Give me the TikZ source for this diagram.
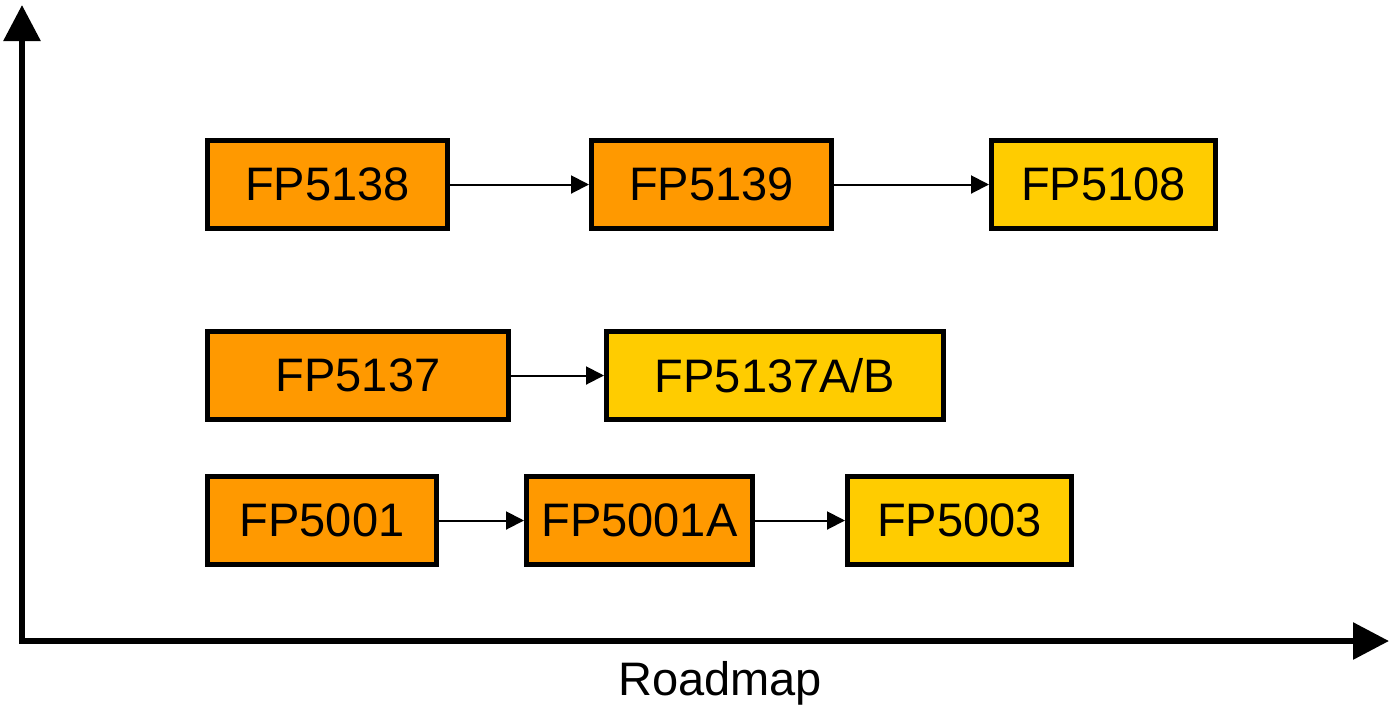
\documentclass[tikz,border=0pt]{standalone}
\usepackage{fontspec}
\setmainfont{Liberation Sans}
\usetikzlibrary{arrows.meta}
\definecolor{fporange}{HTML}{FF9900}
\definecolor{fpyellow}{HTML}{FFCC00}
\begin{document}
\begin{tikzpicture}[x=0.5pt,y=-0.5pt,
	fpbox/.style={draw,line width=2.5pt,minimum height=44pt,inner sep=0pt,font=\fontsize{23.5}{26}\selectfont},
	oldfp/.style={fpbox,fill=fporange},
	newfp/.style={fpbox,fill=fpyellow},
	link/.style={-{Triangle[length=9pt,width=9pt]},line width=1pt},
	axis/.style={-{Triangle[length=18pt,width=18pt]},line width=3pt}]
			\useasboundingbox (0,0) rectangle (1389,709);
			\coordinate (origin) at (22,641);
			\coordinate (ytop) at (22,5);
			\coordinate (xend) at (1389,641);
			\draw[axis] (origin) -- (ytop);
			\draw[axis] ([xshift=-1.5pt]origin) -- (xend);
			\node[font=\fontsize{23.5}{26}\selectfont] (roadmap) at (720,683) {Roadmap};
			\node[oldfp,minimum width=120pt] (fp5138) at (327.5,184.5) {FP5138};
			\node[oldfp,minimum width=120pt] (fp5139) at (711.5,184.5) {FP5139};
			\node[newfp,minimum width=112pt] (fp5108) at (1103.5,184.5) {FP5108};
			\node[oldfp,minimum width=150.5pt] (fp5137) at (358,375.5) {FP5137};
			\node[newfp,minimum width=168.5pt] (fp5137ab) at (775,375.5) {FP5137A/B};
			\node[oldfp,minimum width=114.5pt] (fp5001) at (322,520.5) {FP5001};
			\node[oldfp,minimum width=113pt] (fp5001a) at (639.5,520.5) {FP5001A};
			\node[newfp,minimum width=112pt] (fp5003) at (959.5,520.5) {FP5003};
			\draw[link] (fp5138) -- (fp5139);
			\draw[link] (fp5139) -- (fp5108);
			\draw[link] (fp5137) -- (fp5137ab);
			\draw[link] (fp5001) -- (fp5001a);
			\draw[link] (fp5001a) -- (fp5003);
		\end{tikzpicture}
\end{document}
